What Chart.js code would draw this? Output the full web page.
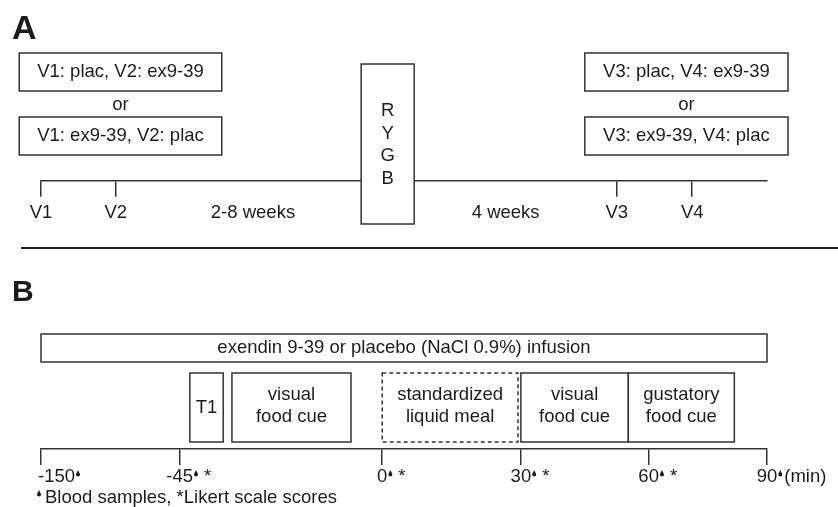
<!DOCTYPE html>
<html>
<head>
<meta charset="utf-8">
<script src="https://cdn.jsdelivr.net/npm/chart.js@4.4.1/dist/chart.umd.min.js"></script>
<style>
  html, body { margin: 0; padding: 0; background: #fff; }
  canvas { display: block; }
</style>
</head>
<body>
<canvas id="panelA" width="838" height="250"></canvas>
<canvas id="panelB" width="838" height="257"></canvas>
<script>
// Diagram is schematic, not to scale: positions are 0-100 along the timeline.

// Panel A - study design
const visitLabels = ["V1", "V2", "V3", "V4"];
const visitPos = [0, 10.3, 79.3, 89.7];
const intervalLabels = ["2-8 weeks", "4 weeks"];
const intervalPos = [29.2, 64.0];
const surgeryLabel = ["R", "Y", "G", "B"];
const surgerySpan = [44.1, 51.4];
const preOptions = ["V1: plac, V2: ex9-39", "V1: ex9-39, V2: plac"];
const preSpan = [-3.0, 24.9];
const postOptions = ["V3: plac, V4: ex9-39", "V3: ex9-39, V4: plac"];
const postSpan = [74.9, 102.9];

// Panel B - visit protocol
const timeLabels = ["-150", "-45", "0", "30", "60", "90"];
const timePos = [0, 19.1, 47.0, 66.1, 83.7, 100];
const bloodSample = [true, true, true, true, true, true];
const likertScore = [false, true, true, true, true, false];
const infusionLabel = "exendin 9-39 or placebo (NaCl 0.9%) infusion";
const infusionSpan = [0, 100];
const phaseLabels = [["T1"], ["visual", "food cue"], ["standardized", "liquid meal"], ["visual", "food cue"], ["gustatory", "food cue"]];
const phaseStart = [20.5, 26.3, 47.0, 66.1, 80.9];
const phaseEnd = [25.1, 42.7, 65.7, 80.9, 95.5];
const phaseDashed = [false, false, true, false, false];

const FONT = '"Liberation Sans", Arial, sans-serif';
const SIZE = 18.5;
const INK = "#1c1c1c";
const LINE = "#333";

function box(ctx, x0, x1, y0, y1, dashed) {
  ctx.save();
  ctx.fillStyle = "#fff";
  ctx.fillRect(x0, y0, x1 - x0, y1 - y0);
  ctx.strokeStyle = LINE;
  ctx.lineWidth = 1.5;
  if (dashed) ctx.setLineDash([4, 3]);
  ctx.strokeRect(x0, y0, x1 - x0, y1 - y0);
  ctx.restore();
}

function text(ctx, s, x, y, align, font) {
  ctx.font = font || SIZE + "px " + FONT;
  ctx.fillStyle = INK;
  ctx.textAlign = align || "center";
  ctx.textBaseline = "middle";
  ctx.fillText(s, x, y);
}

function drop(ctx, x, top) {
  const w = 4, h = 6.5;
  ctx.save();
  ctx.fillStyle = INK;
  ctx.beginPath();
  ctx.moveTo(x, top);
  ctx.bezierCurveTo(x - 0.6, top + 2, x - w / 2, top + 3, x - w / 2, top + h - w / 2);
  ctx.arc(x, top + h - w / 2, w / 2, Math.PI, 0, true);
  ctx.bezierCurveTo(x + w / 2, top + 3, x + 0.6, top + 2, x, top);
  ctx.fill();
  ctx.restore();
}

// combined tick list for panel A: visits get a tick mark, intervals only a label
const aTicks = visitPos.map((p, i) => ({ value: p, label: visitLabels[i], mark: true }))
  .concat(intervalPos.map((p, i) => ({ value: p, label: intervalLabels[i], mark: false })))
  .sort((a, b) => a.value - b.value);

const panelAPlugin = {
  id: "panelA",
  afterDraw(chart) {
    const ctx = chart.ctx;
    const x = chart.scales.x;
    text(ctx, "A", 12, 30, "left", "bold 34px " + FONT);

    [[preOptions, preSpan], [postOptions, postSpan]].forEach(([opts, span]) => {
      const x0 = x.getPixelForValue(span[0]), x1 = x.getPixelForValue(span[1]);
      const cx = (x0 + x1) / 2;
      box(ctx, x0, x1, 53, 91);
      text(ctx, opts[0], cx, 72);
      text(ctx, "or", cx, 105);
      box(ctx, x0, x1, 117, 155);
      text(ctx, opts[1], cx, 136);
    });

    const s0 = x.getPixelForValue(surgerySpan[0]), s1 = x.getPixelForValue(surgerySpan[1]);
    box(ctx, s0, s1, 64, 224);
    surgeryLabel.forEach((c, i) => text(ctx, c, (s0 + s1) / 2, 111 + i * 22.7));

    ctx.save();
    ctx.strokeStyle = "#222";
    ctx.lineWidth = 2;
    ctx.beginPath();
    ctx.moveTo(21, 248);
    ctx.lineTo(838, 248);
    ctx.stroke();
    ctx.restore();
  }
};

new Chart(document.getElementById("panelA"), {
  type: "scatter",
  data: { datasets: [{ data: visitPos.map(v => ({ x: v, y: 0 })), pointRadius: 0 }] },
  options: {
    responsive: false,
    animation: false,
    layout: { padding: { left: 41, right: 71, top: 10, bottom: 21 } },
    plugins: { legend: { display: false }, tooltip: { enabled: false } },
    scales: {
      x: {
        type: "linear",
        min: 0,
        max: 100,
        afterBuildTicks: scale => { scale.ticks = aTicks.map(t => ({ value: t.value })); },
        border: { display: true, color: LINE, width: 1.5 },
        grid: {
          drawOnChartArea: false,
          drawTicks: true,
          tickLength: 16,
          lineWidth: 1.5,
          color: c => (aTicks[c.index] && aTicks[c.index].mark ? LINE : "rgba(0,0,0,0)")
        },
        ticks: {
          autoSkip: false,
          maxRotation: 0,
          padding: 5,
          color: INK,
          font: { family: FONT, size: SIZE },
          callback: (v, i) => aTicks[i].label
        }
      },
      y: { display: false, min: 0, max: 1 }
    }
  },
  plugins: [panelAPlugin]
});

const panelBPlugin = {
  id: "panelB",
  afterDraw(chart) {
    const ctx = chart.ctx;
    const x = chart.scales.x;
    text(ctx, "B", 12, 43, "left", "bold 30px " + FONT);

    const i0 = x.getPixelForValue(infusionSpan[0]), i1 = x.getPixelForValue(infusionSpan[1]);
    box(ctx, i0, i1, 84, 112);
    text(ctx, infusionLabel, (i0 + i1) / 2, 98);

    phaseLabels.forEach((lines, i) => {
      const x0 = x.getPixelForValue(phaseStart[i]), x1 = x.getPixelForValue(phaseEnd[i]);
      box(ctx, x0, x1, 123, 192, phaseDashed[i]);
      const cx = (x0 + x1) / 2;
      if (lines.length === 1) text(ctx, lines[0], cx, 158);
      else lines.forEach((l, k) => text(ctx, l, cx, 145 + k * 22));
    });

    // time labels with sample markers
    timeLabels.forEach((lab, i) => {
      const px = x.getPixelForValue(timePos[i]);
      ctx.font = SIZE + "px " + FONT;
      const w = ctx.measureText(lab).width;
      const left = i === 0 ? px - 3 : px - w / 2;
      text(ctx, lab, left, 227, "left");
      const r = left + w;
      if (bloodSample[i]) drop(ctx, r + 3, 220);
      if (likertScore[i]) text(ctx, "*", r + 11, 227, "left");
      if (i === timeLabels.length - 1) text(ctx, "(min)", r + 7, 227, "left");
    });

    drop(ctx, 39, 240);
    text(ctx, "Blood samples, *Likert scale scores", 45, 248, "left");
  }
};

new Chart(document.getElementById("panelB"), {
  type: "scatter",
  data: { datasets: [{ data: timePos.map(v => ({ x: v, y: 0 })), pointRadius: 0 }] },
  options: {
    responsive: false,
    animation: false,
    layout: { padding: { left: 41, right: 71, top: 10, bottom: 42 } },
    plugins: { legend: { display: false }, tooltip: { enabled: false } },
    scales: {
      x: {
        type: "linear",
        min: 0,
        max: 100,
        afterBuildTicks: scale => { scale.ticks = timePos.map(v => ({ value: v })); },
        border: { display: true, color: LINE, width: 1.5 },
        grid: { drawOnChartArea: false, drawTicks: true, tickLength: 16, lineWidth: 1.5, color: LINE },
        ticks: { display: false }
      },
      y: { display: false, min: 0, max: 1 }
    }
  },
  plugins: [panelBPlugin]
});
</script>
</body>
</html>
